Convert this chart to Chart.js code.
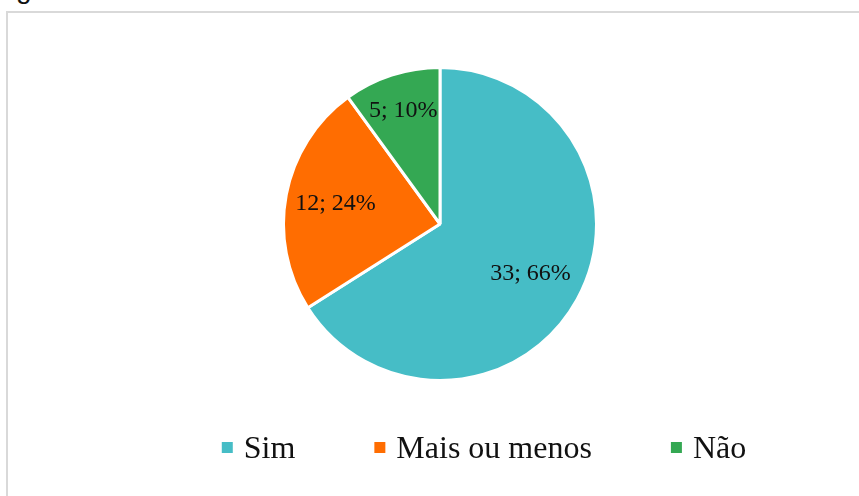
<!DOCTYPE html>
<html>
<head>
<meta charset="utf-8">
<script src="https://cdn.jsdelivr.net/npm/chart.js@4/dist/chart.umd.min.js"></script>
<style>
  html, body { margin: 0; padding: 0; background: #ffffff; overflow: hidden; }
  #wrap { position: relative; width: 859px; height: 496px; }
  #frame { position: absolute; left: 6px; top: 11px; width: 900px; height: 520px;
           border-left: 2px solid #d9d9d9; border-top: 2px solid #d9d9d9; }
  #cut { position: absolute; left: 16px; top: -27px; font: 28px "Liberation Sans", Arial, sans-serif; color: #111; }
  #box { position: absolute; left: 0; top: 0; width: 859px; height: 496px; }
</style>
</head>
<body>
<div id="wrap">
  <div id="cut">g</div>
  <div id="frame"></div>
  <div id="box"><canvas id="pieChart"></canvas></div>
</div>
<script>
const categories = ["Sim", "Mais ou menos", "Não"];
const counts = [33, 12, 5];
const colors = ["#46BDC6", "#FF6D01", "#34A853"];

/* labels "n; p%" drawn inside each slice */
const sliceLabels = {
  id: "sliceLabels",
  afterDatasetsDraw(chart, args, opts) {
    const ctx = chart.ctx;
    const meta = chart.getDatasetMeta(0);
    const data = chart.data.datasets[0].data;
    const total = data.reduce((a, b) => a + b, 0);
    ctx.save();
    ctx.font = "24px 'Liberation Serif', 'Times New Roman', serif";
    ctx.fillStyle = "#111111";
    ctx.textAlign = "center";
    ctx.textBaseline = "middle";
    meta.data.forEach((arc, i) => {
      const mid = (arc.startAngle + arc.endAngle) / 2;
      const d = arc.outerRadius * opts.factors[i];
      const pct = Math.round(data[i] / total * 100);
      ctx.fillText(data[i] + "; " + pct + "%", arc.x + Math.cos(mid) * d, arc.y + Math.sin(mid) * d);
    });
    ctx.restore();
  }
};

/* legend row under the pie */
const bottomLegend = {
  id: "bottomLegend",
  afterDraw(chart, args, opts) {
    const ctx = chart.ctx;
    ctx.save();
    ctx.font = "32px 'Liberation Serif', 'Times New Roman', serif";
    ctx.textBaseline = "alphabetic";
    const box = 11, gapText = 11, gapItem = 79;
    const widths = chart.data.labels.map(l => box + gapText + ctx.measureText(l).width);
    const total = widths.reduce((a, b) => a + b, 0) + gapItem * (widths.length - 1);
    let x = opts.centerX - total / 2;
    chart.data.labels.forEach((l, i) => {
      ctx.fillStyle = chart.data.datasets[0].backgroundColor[i];
      ctx.fillRect(x, opts.baseline - 16, box, box);
      ctx.fillStyle = "#111111";
      ctx.fillText(l, x + box + gapText, opts.baseline);
      x += widths[i] + gapItem;
    });
    ctx.restore();
  }
};

new Chart(document.getElementById("pieChart"), {
  type: "pie",
  data: {
    labels: categories,
    datasets: [{
      data: counts,
      backgroundColor: colors,
      borderColor: "#ffffff",
      borderWidth: 3
    }]
  },
  options: {
    responsive: true,
    maintainAspectRatio: false,
    animation: false,
    layout: {
      padding: { left: 282, right: 261, top: 66, bottom: 114 }
    },
    plugins: {
      legend: { display: false },
      tooltip: { enabled: false },
      sliceLabels: { factors: [0.66, 0.68, 0.76] },
      bottomLegend: { centerX: 484, baseline: 458 }
    }
  },
  plugins: [sliceLabels, bottomLegend]
});
</script>
</body>
</html>
